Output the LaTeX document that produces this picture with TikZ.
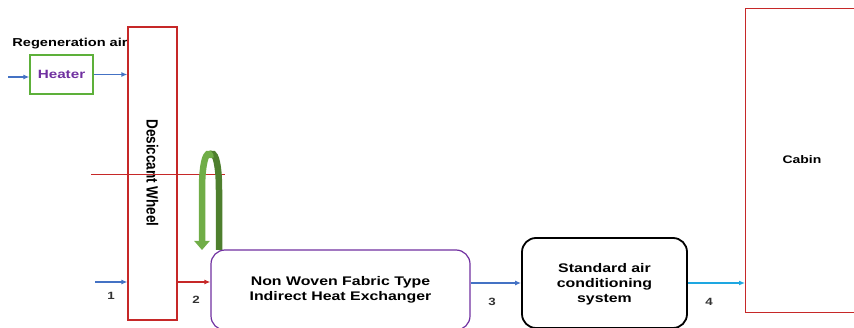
\documentclass[tikz,border=0pt]{standalone}
\usepackage{fontspec}
\setmainfont{Liberation Sans}
\usepackage{xcolor}
\usepackage{tikz}
\usetikzlibrary{arrows.meta}
\usetikzlibrary{calc}
\tikzset{>=latex}
\definecolor{flowblue}{HTML}{4472C4}
\definecolor{wheelred}{HTML}{C62828}
\definecolor{heatgreen}{HTML}{5DB03A}
\definecolor{txtpurple}{HTML}{7030A0}
\definecolor{flowcyan}{HTML}{1EA7E1}
\definecolor{loopgreen}{HTML}{70AD47}
\definecolor{loopdark}{HTML}{4E7F2E}
\tikzstyle{flow}=[-{Latex[length=6,width=5]},line width=1.8pt]
\tikzstyle{unit}=[draw,rounded corners=14pt,line width=1.2pt,inner sep=0pt]
\tikzstyle{wide}=[xscale=1.27,align=center,inner sep=0pt]
\tikzstyle{num}=[wide,font=\bfseries\fontsize{10.5}{12}\selectfont,text=black!80]

\begin{document}
\begin{tikzpicture}[x=1pt,y=1pt]
      \useasboundingbox (0,0) rectangle (854,-328);
      % regeneration side
      \node[wide,font=\bfseries\fontsize{11.5}{14}\selectfont] (regen) at (70,-44) {Regeneration air};
      \node[draw=heatgreen,line width=1.3pt,minimum width=63,minimum height=39,inner sep=0pt] (heater) at (61.5,-74.5) {};
      \node[wide,text=txtpurple,font=\bfseries\fontsize{12}{14}\selectfont] (heatertxt) at (heater) {Heater};
      \coordinate (regin) at (8,-77);
      \draw[flow,flowblue] (regin) -- (regin -| heater.west);
      % desiccant wheel
      \node[draw=wheelred,line width=1.2pt,minimum width=49,minimum height=293,inner sep=0pt] (wheel) at (152.5,-173.5) {};
      \node[rotate=-90,font=\bfseries\fontsize{13.5}{15}\selectfont,yscale=1.2] (wheeltxt) at (152.5,-173) {Desiccant Wheel};
      \draw[flow,flowblue] (heater.east) -- (heater.east -| wheel.west);
      \draw[wheelred,line width=0.9pt] (91,-174) -- (225,-174);
      % rotating arrow
      \draw[loopdark,line width=6.5pt] (219,-250) -- (219,-190) .. controls (219,-150) and (210.5,-150) .. (210.5,-158);
      \draw[loopgreen,line width=6.5pt,-{Triangle[length=9,width=15]}] (210.5,-158) .. controls (210.5,-150) and (202,-150) .. (202,-190) -- (202,-250);
      % process side
      \node[unit,draw=txtpurple,minimum width=259,minimum height=80] (hx) at (340.5,-290) {};
      \node[wide,font=\bfseries\fontsize{12.5}{15}\selectfont] (hxtxt) at (340.5,-290) {Non Woven Fabric Type\\Indirect Heat Exchanger};
      \node[unit,draw=black,line width=1.8pt,minimum width=165,minimum height=90] (sac) at (604.5,-283) {};
      \node[wide,font=\bfseries\fontsize{12.5}{15}\selectfont] (sactxt) at (604.5,-284) {Standard air\\conditioning\\system};
      \node[draw=wheelred,line width=1.4pt,minimum width=140,minimum height=304,inner sep=0pt,anchor=north west] (cabin) at (745,-8) {};
      \node[wide,font=\bfseries\fontsize{11}{13}\selectfont] (cabintxt) at (802,-160) {Cabin};
      \coordinate (procin) at (95,-282);
      \draw[flow,flowblue] (procin) -- (procin -| wheel.west);
      \draw[flow,wheelred] (procin -| wheel.east) -- (procin -| hx.west);
      \draw[flow,flowblue] (sac.west -| hx.east) -- (sac.west);
      \draw[flow,flowcyan] (sac.east) -- (sac.east -| cabin.west);
      % state points
      \node[num] (p1) at (111,-296) {1};
      \node[num] (p2) at (196,-300) {2};
      \node[num] (p3) at (492,-302) {3};
      \node[num] (p4) at (709,-302) {4};
    \end{tikzpicture}
\end{document}
